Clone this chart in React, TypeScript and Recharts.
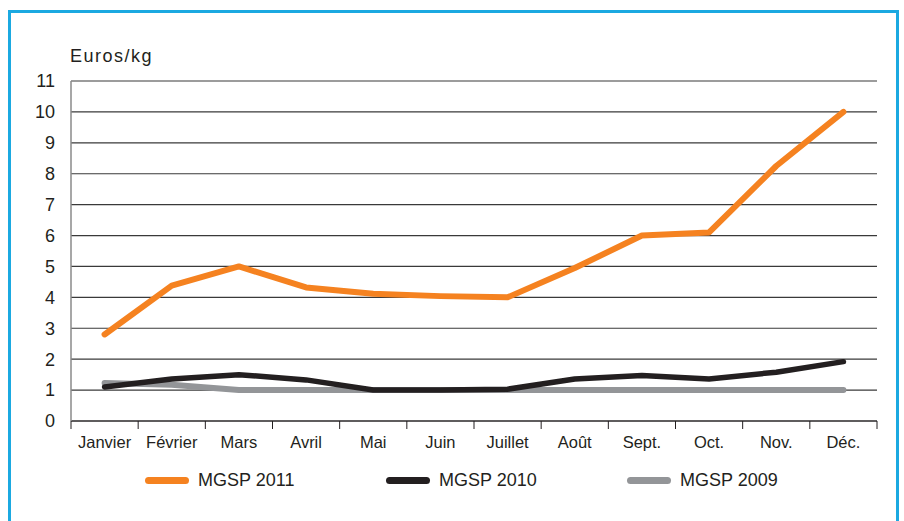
import { LineChart, Line, XAxis, YAxis, CartesianGrid, Legend } from "recharts";

const months = ["Janvier", "Février", "Mars", "Avril", "Mai", "Juin", "Juillet", "Août", "Sept.", "Oct.", "Nov.", "Déc."];
const seriesNames = ["MGSP 2011", "MGSP 2010", "MGSP 2009"];
const mgsp2011 = [2.8, 4.38, 5.0, 4.32, 4.12, 4.04, 4.0, 4.95, 6.0, 6.1, 8.25, 10.0];
const mgsp2010 = [1.1, 1.36, 1.5, 1.33, 1.0, 1.0, 1.03, 1.36, 1.47, 1.36, 1.58, 1.92];
const mgsp2009 = [1.23, 1.17, 1.0, 1.0, 1.0, 1.0, 1.0, 1.0, 1.0, 1.0, 1.0, 1.0];
const yTicks = [0, 1, 2, 3, 4, 5, 6, 7, 8, 9, 10, 11];

const data = months.map((m, i) => ({
  month: m,
  y2011: mgsp2011[i],
  y2010: mgsp2010[i],
  y2009: mgsp2009[i],
}));

const FONT = "'Liberation Sans', Arial, sans-serif";
const INK = "#231f20";
const W = 904;
const H = 521;
const Y_W = 60;
const MARGIN = { top: 81, right: 27, left: 11, bottom: 39 };
const PLOT_W = W - MARGIN.left - Y_W - MARGIN.right;
const BAND = PLOT_W / months.length;

// labels centred in each band, tick marks on band edges
const MonthTick = (props: any) => {
  const { x, y, payload, index } = props;
  const left = x - BAND / 2;
  return (
    <g>
      <line x1={left} x2={left} y1={y - 8} y2={y} stroke={INK} strokeWidth={1} />
      {index === months.length - 1 && (
        <line x1={left + BAND} x2={left + BAND} y1={y - 8} y2={y} stroke={INK} strokeWidth={1} />
      )}
      <text x={x} y={y + 19} textAnchor="middle" fill={INK} fontSize={16.5} fontFamily={FONT}>
        {payload.value}
      </text>
    </g>
  );
};

const renderLegend = (props: any) => {
  const payload = [...props.payload].sort(
    (a: any, b: any) => seriesNames.indexOf(a.value) - seriesNames.indexOf(b.value)
  );
  return (
    <div style={{ display: "flex", fontFamily: FONT }}>
      {payload.map((p: any) => (
        <div key={p.value} style={{ width: 241, display: "flex", alignItems: "center" }}>
          <span
            style={{
              display: "inline-block",
              width: 44,
              height: 7,
              borderRadius: 4,
              background: p.color,
              marginRight: 9,
            }}
          />
          <span style={{ fontSize: 18, color: INK }}>{p.value}</span>
        </div>
      ))}
    </div>
  );
};

export default function App() {
  return (
    <div style={{ position: "fixed", left: 0, top: 0, width: W, height: H, background: "#fff", overflow: "hidden" }}>
      <div
        style={{
          position: "absolute",
          left: 8,
          top: 10,
          width: 885,
          height: 540,
          border: "3px solid #1ba9e1",
        }}
      />
      <div
        style={{
          position: "absolute",
          left: 70,
          top: 46,
          fontFamily: FONT,
          fontSize: 18,
          letterSpacing: 1.5,
          color: INK,
        }}
      >
        Euros/kg
      </div>
      <div style={{ position: "absolute", left: 0, top: 0 }}>
        <LineChart width={W} height={H} data={data} margin={MARGIN}>
          <CartesianGrid vertical={false} stroke="#3a3a3a" strokeWidth={1.2} />
          <XAxis
            dataKey="month"
            axisLine={{ stroke: INK, strokeWidth: 1.2 }}
            tickLine={false}
            tick={<MonthTick />}
            interval={0}
            height={40}
            padding={{ left: BAND / 2, right: BAND / 2 }}
          />
          <YAxis
            domain={[0, 11]}
            ticks={yTicks}
            width={Y_W}
            axisLine={{ stroke: "#8a8a8a", strokeWidth: 1.5 }}
            tickLine={false}
            tickSize={0}
            tickMargin={16}
            tick={{ fill: INK, fontSize: 18, fontFamily: FONT }}
          />
          <YAxis
            yAxisId="frame"
            orientation="right"
            width={0}
            domain={[0, 11]}
            tick={false}
            tickLine={false}
            axisLine={{ stroke: INK, strokeWidth: 1.2 }}
          />
          <Legend content={renderLegend} wrapperStyle={{ left: 145, top: 470, width: 760 }} />
          <Line
            dataKey="y2009"
            name="MGSP 2009"
            stroke="#939598"
            strokeWidth={6}
            strokeLinecap="round"
            strokeLinejoin="round"
            dot={false}
            isAnimationActive={false}
          />
          <Line
            dataKey="y2010"
            name="MGSP 2010"
            stroke={INK}
            strokeWidth={5.5}
            strokeLinecap="round"
            strokeLinejoin="round"
            dot={false}
            isAnimationActive={false}
          />
          <Line
            dataKey="y2011"
            name="MGSP 2011"
            stroke="#f58220"
            strokeWidth={6}
            strokeLinecap="round"
            strokeLinejoin="round"
            dot={false}
            isAnimationActive={false}
          />
        </LineChart>
      </div>
    </div>
  );
}
